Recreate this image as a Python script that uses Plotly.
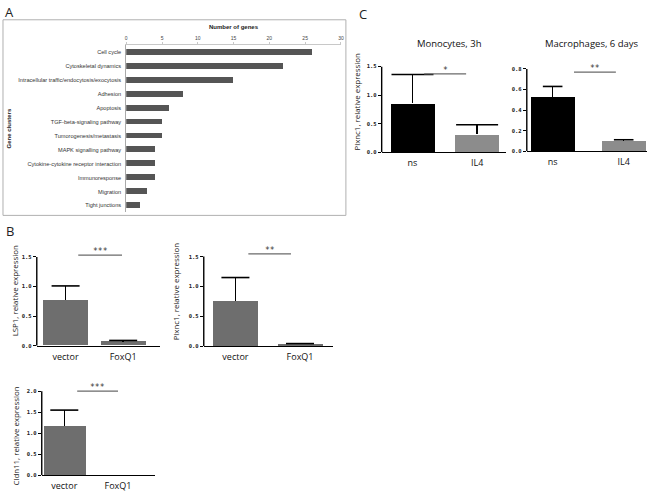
import plotly.graph_objects as go

W, H = 660, 493

# ---------------- data ----------------
gene_clusters = ["Cell cycle", "Cytoskeletal dynamics",
                 "Intracellular traffic/endocytosis/exocytosis", "Adhesion",
                 "Apoptosis", "TGF-beta-signaling pathway",
                 "Tumorogenesis/metastasis", "MAPK signalling pathway",
                 "Cytokine-cytokine receptor interaction", "Immunoresponse",
                 "Migration", "Tight junctions"]
gene_counts = [26, 22, 15, 8, 6, 5, 5, 4, 4, 4, 3, 2]
gene_ticks = [0, 5, 10, 15, 20, 25, 30]

b_groups = ["vector", "FoxQ1"]
lsp1_mean = [0.77, 0.07]
lsp1_err = [0.24, 0.02]
plxnc1_b_mean = [0.75, 0.03]
plxnc1_b_err = [0.40, 0.015]
cldn11_mean = [1.18, 0.0]
cldn11_err = [0.37, 0.0]

c_groups = ["ns", "IL4"]
mono_mean = [0.86, 0.31]
mono_err = [0.50, 0.17]
macro_mean = [0.53, 0.096]
macro_err = [0.10, 0.015]

# significance bars: (x0, x1, y, label)
sig_lsp1 = (0.22, 0.98, 1.53, "***")
sig_plx_b = (0.20, 0.86, 1.545, "**")
sig_cldn = (0.24, 1.00, 2.00, "***")
sig_mono = (0.18, 0.83, 1.37, "*")
sig_macro = (0.30, 0.89, 0.77, "**")

# ---------------- helpers ----------------
def fx(px):
    return px / W

def fy(px):
    return 1 - px / H

fig = go.Figure()
shapes = []
annotations = []

TICKFONT = dict(family="DejaVu Sans Mono", size=5.5, color="#222")
LABFONT = dict(family="Open Sans", size=9, color="#111")
YTFONT = dict(family="Open Sans", size=7.9, color="#222")


def paper_text(text, px, py, font, angle=0):
    annotations.append(dict(text=text, xref="paper", yref="paper",
                            x=fx(px), y=fy(py), xanchor="center",
                            yanchor="middle", showarrow=False,
                            textangle=angle, font=font))

# ---------------- Panel A ----------------
fig.add_trace(go.Bar(x=gene_counts, y=gene_clusters, orientation="h",
                     marker=dict(color="#555555", line_width=0), width=0.42,
                     xaxis="x", yaxis="y", showlegend=False))
fig.update_layout(
    xaxis=dict(domain=[fx(126), fx(342)], range=[0, 30], side="top",
               anchor="y", tickvals=gene_ticks, showgrid=False, zeroline=False,
               showline=True, linecolor="#c8c8c8", linewidth=1,
               ticks="outside", ticklen=2, tickcolor="#c8c8c8",
               tickfont=dict(family="Liberation Sans", size=5, color="#444")),
    yaxis=dict(domain=[fy(212), fy(43)], anchor="x", type="category",
               categoryorder="array", categoryarray=gene_clusters,
               range=[11.5, -0.5], showgrid=False, zeroline=False,
               showline=True, linecolor="#aaaaaa", linewidth=1, ticks="",
               ticklabelstandoff=3,
               tickfont=dict(family="Liberation Sans", size=5.6, color="#333")),
)
shapes.append(dict(type="rect", xref="paper", yref="paper",
                   x0=fx(2), x1=fx(347), y0=fy(215), y1=fy(17),
                   line=dict(color="#b0b0b0", width=1)))
paper_text("<b>Number of genes</b>", 234, 24,
           dict(family="Liberation Sans", size=6, color="#222"))
paper_text("<b>Gene clusters</b>", 9, 127,
           dict(family="Liberation Sans", size=6, color="#222"), -90)

# ---------------- bar panels ----------------
def bar_panel(idx, cats, means, errs, colors, cap, xpx, zero_px, ppu, ytop,
              ytickvals, xrange, bw, sig, ytitle, ytitle_x, ytitle_y):
    xa = "x%d" % idx
    ya = "y%d" % idx
    fig.add_trace(go.Bar(
        x=[0, 1], y=means, width=bw,
        marker=dict(color=colors, line_width=0),
        error_y=dict(type="data", symmetric=False, array=errs,
                     arrayminus=[0] * len(errs), color="black",
                     thickness=1.6, width=0),
        xaxis=xa, yaxis=ya, showlegend=False))
    # caps only at the upper end of each error bar
    cap_y = [m + e if e > 0 else None for m, e in zip(means, errs)]
    fig.add_trace(go.Scatter(
        x=[0, 1], y=cap_y, mode="markers",
        marker=dict(symbol="line-ew", size=2 * cap,
                    line=dict(color="black", width=1.6)),
        cliponaxis=False, xaxis=xa, yaxis=ya, showlegend=False,
        hoverinfo="skip"))
    top_px = zero_px - ppu * ytop
    fig.layout["xaxis%d" % idx] = dict(
        domain=[fx(xpx[0]), fx(xpx[1])], range=xrange, anchor=ya,
        tickvals=[0, 1], ticktext=cats, showgrid=False, zeroline=False,
        showline=True, linecolor="black", linewidth=1.4, ticks="",
        ticklabelstandoff=2, tickfont=LABFONT)
    fig.layout["yaxis%d" % idx] = dict(
        domain=[fy(zero_px), fy(top_px)], range=[0, ytop], anchor=xa,
        tickvals=ytickvals, ticktext=["<b>%.1f</b>" % v for v in ytickvals],
        showgrid=False, zeroline=False, showline=False,
        ticks="outside", ticklen=3, tickwidth=1, tickcolor="black",
        tickfont=TICKFONT)
    shapes.append(dict(type="line", xref="%s domain" % xa, yref=ya,
                       x0=0, x1=0, y0=0, y1=ytickvals[-1],
                       line=dict(color="black", width=1.4)))
    x0, x1, yy, lab = sig
    shapes.append(dict(type="line", xref=xa, yref=ya, x0=x0, x1=x1,
                       y0=yy, y1=yy, line=dict(color="#6a6a6a", width=1.2)))
    annotations.append(dict(text=lab, xref=xa, yref=ya, x=(x0 + x1) / 2, y=yy,
                            xanchor="center", yanchor="bottom", showarrow=False,
                            yshift=-3,
                            font=dict(family="DejaVu Sans Mono", size=8,
                                      color="#333")))
    if ytitle:
        paper_text(ytitle, ytitle_x, ytitle_y, YTFONT, -90)

BGRAY = "#6e6e6e"
bar_panel(2, b_groups, lsp1_mean, lsp1_err, [BGRAY, BGRAY], 10,
          (36, 160), 347, 60, 1.56, [0, 0.5, 1.0, 1.5],
          [-0.5, 1.64], 0.78, sig_lsp1,
          "LSP1, relative expression", 15, 291)
bar_panel(3, b_groups, plxnc1_b_mean, plxnc1_b_err, [BGRAY, BGRAY], 10,
          (204, 334), 347.5, 60.5, 1.57, [0, 0.5, 1.0, 1.5],
          [-0.49, 1.51], 0.7, sig_plx_b,
          "Plxnc1, relative expression", 177, 292)
bar_panel(4, b_groups, cldn11_mean, cldn11_err, [BGRAY, BGRAY], 10,
          (41, 155), 478, 42.5, 2.04, [0, 0.5, 1.0, 1.5, 2.0],
          [-0.42, 1.69], 0.78, sig_cldn,
          "Cldn11, relative expression", 15, 438)
bar_panel(5, c_groups, mono_mean, mono_err, ["#000000", "#8c8c8c"], 15,
          (383, 508), 151, 57.8, 1.5, [0, 0.5, 1.0, 1.5],
          [-0.477, 1.446], 0.68, sig_mono,
          "Plxnc1, relative expression", 358, 100)
bar_panel(6, c_groups, macro_mean, macro_err, ["#000000", "#8c8c8c"], 7,
          (529, 650), 150, 104, 0.8, [0, 0.2, 0.4, 0.6, 0.8],
          [-0.364, 1.329], 0.62, sig_macro,
          "", 0, 0)

# C titles
paper_text("Monocytes, 3h", 451, 41,
           dict(family="Open Sans", size=9.5, color="#111"))
paper_text("Macrophages, 6 days", 595, 41,
           dict(family="Open Sans", size=9.5, color="#111"))

# panel letters
for letter, (px, py) in {"A": (9, 9), "B": (9, 231), "C": (364, 11)}.items():
    paper_text(letter, px, py, dict(family="Open Sans", size=13, color="#222"))

fig.update_layout(width=W, height=H, margin=dict(l=0, r=0, t=0, b=0),
                  paper_bgcolor="white", plot_bgcolor="white",
                  shapes=shapes, annotations=annotations, bargap=0,
                  hovermode=False)

fig.write_html("out.html", config={"displayModeBar": False},
               post_script="document.body.style.margin='0';"
                           "document.body.style.padding='0';")
